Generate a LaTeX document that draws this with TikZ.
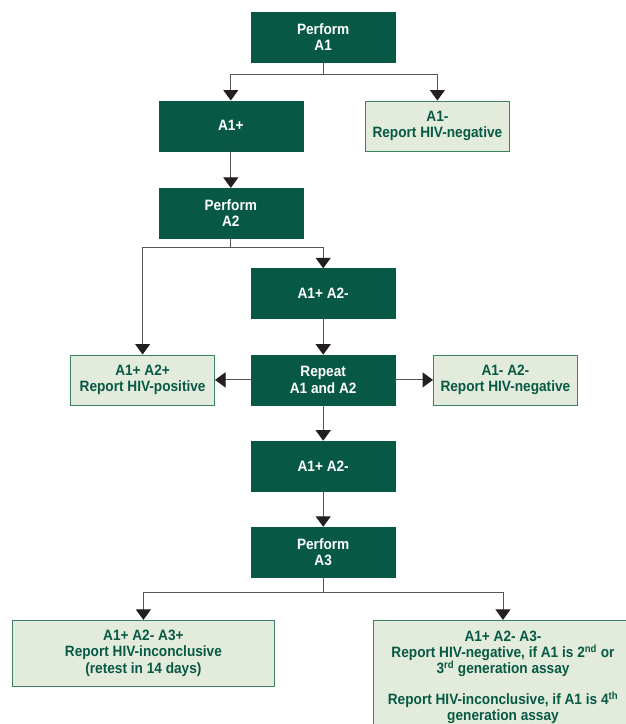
\documentclass[tikz,border=0pt]{standalone}
\usepackage{fontspec}
\setmainfont{Liberation Sans}[FakeStretch=0.91]
\usetikzlibrary{arrows.meta,positioning}
\definecolor{hivdark}{RGB}{7,89,69}
\definecolor{hivlight}{RGB}{227,236,220}
\definecolor{hivedge}{RGB}{60,130,100}
\definecolor{hivline}{RGB}{85,85,85}
\definecolor{hivtip}{RGB}{35,31,32}
\tikzset{
    link/.style={draw=hivline, line width=1pt},
    flow/.style={link, -{Triangle[length=10.5pt, width=15pt, color=hivtip]}}
}

\begin{document}
\begin{tikzpicture}[
            x=1pt, y=1pt,
            node distance=36pt,
            box/.style={rectangle, minimum width=144pt, minimum height=50pt, inner sep=2pt, align=center, font=\bfseries\fontsize{15}{16.3}\selectfont},
            action/.style={box, fill=hivdark, draw=hivdark, text=white},
            result/.style={box, fill=hivlight, draw=hivedge, line width=0.8pt, text=hivdark}
        ]
            \useasboundingbox (0,0) rectangle (626,-724);

            % Level 1
            \node[action] (performA1) at (323.2,-37.3) {Perform\\A1};

            % Level 2
            \node[action, below=38pt of performA1, xshift=-92.4pt] (a1pos) {A1+};
            \node[result, below=38pt of performA1, xshift=114.2pt] (a1neg) {A1-\\Report HIV-negative};

            % Level 3
            \node[action, below=37pt of a1pos] (performA2) {Perform\\A2};

            % Level 4
            \node[action, below=30pt of performA2, xshift=92.4pt] (a1a2neg) {A1+ A2-};

            % Level 5 - split
            \node[action, below=of a1a2neg] (repeat) {Repeat\\A1 and A2};
            \node[result, left=of repeat] (a1a2posrep) {A1+ A2+\\Report HIV-positive};
            \node[result, right=37.6pt of repeat] (a1a2negrep) {A1- A2-\\Report HIV-negative};

            % Level 6
            \node[action, below=35.6pt of repeat] (a1a2again) {A1+ A2-};

            % Level 7
            \node[action, below=35.7pt of a1a2again] (performA3) {Perform\\A3};

            % Level 8 - split
            \node[result, minimum width=262pt, minimum height=66pt, below=42.7pt of performA3, xshift=-179.8pt] (a3pos) {A1+ A2- A3+\\Report HIV-inconclusive\\(retest in 14 days)};
            \node[result, minimum width=259pt, minimum height=114pt, below=42.7pt of performA3, xshift=179.8pt] (a3neg) {A1+ A2- A3-\\Report HIV-negative, if A1 is 2\textsuperscript{nd} or\\3\textsuperscript{rd} generation assay\\[14pt]Report HIV-inconclusive, if A1 is 4\textsuperscript{th}\\generation assay};

            % Arrows
            \draw[flow] (performA1.south) -- ++(0,-12.4) -| (a1pos);
            \draw[flow] (performA1.south) -- ++(0,-12.4) -| (a1neg);
            \draw[flow] (a1pos) -- (performA2);
            \draw[flow] (performA2.south) -- ++(0,-9) -| (a1a2posrep);
            \draw[flow] (performA2.south) -- ++(0,-9) -| (a1a2neg);
            \draw[flow] (a1a2neg) -- (repeat);
            \draw[flow] (repeat) -- (a1a2posrep);
            \draw[flow] (repeat) -- (a1a2negrep);
            \draw[flow] (repeat) -- (a1a2again);
            \draw[flow] (a1a2again) -- (performA3);
            \draw[flow] (performA3.south) -- ++(0,-15) -| (a3pos);
            \draw[flow] (performA3.south) -- ++(0,-15) -| (a3neg);

        \end{tikzpicture}
\end{document}
